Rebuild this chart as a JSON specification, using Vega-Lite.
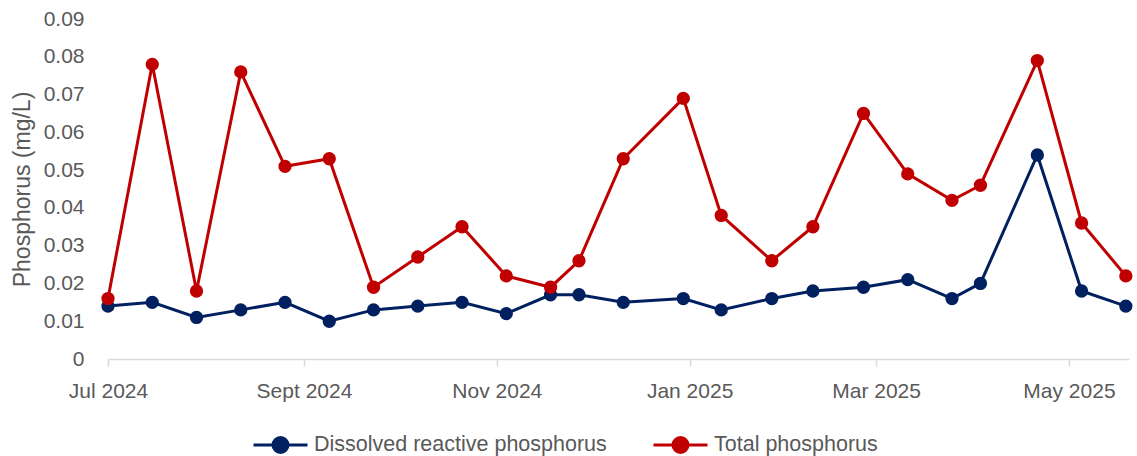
{
  "$schema": "https://vega.github.io/schema/vega-lite/v6.json",
  "width": 1021,
  "height": 340,
  "autosize": {"type": "none"},
  "padding": {"left": 108, "top": 19, "right": 8, "bottom": 97},
  "background": "white",
  "config": {"view": {"stroke": null}, "font": "Liberation Sans"},
  "data": {"values": [
    {"date": "2024-07-01", "series": "Dissolved reactive phosphorus", "value": 0.014},
    {"date": "2024-07-15", "series": "Dissolved reactive phosphorus", "value": 0.015},
    {"date": "2024-07-29", "series": "Dissolved reactive phosphorus", "value": 0.011},
    {"date": "2024-08-12", "series": "Dissolved reactive phosphorus", "value": 0.013},
    {"date": "2024-08-26", "series": "Dissolved reactive phosphorus", "value": 0.015},
    {"date": "2024-09-09", "series": "Dissolved reactive phosphorus", "value": 0.010},
    {"date": "2024-09-23", "series": "Dissolved reactive phosphorus", "value": 0.013},
    {"date": "2024-10-07", "series": "Dissolved reactive phosphorus", "value": 0.014},
    {"date": "2024-10-21", "series": "Dissolved reactive phosphorus", "value": 0.015},
    {"date": "2024-11-04", "series": "Dissolved reactive phosphorus", "value": 0.012},
    {"date": "2024-11-18", "series": "Dissolved reactive phosphorus", "value": 0.017},
    {"date": "2024-11-27", "series": "Dissolved reactive phosphorus", "value": 0.017},
    {"date": "2024-12-11", "series": "Dissolved reactive phosphorus", "value": 0.015},
    {"date": "2024-12-30", "series": "Dissolved reactive phosphorus", "value": 0.016},
    {"date": "2025-01-11", "series": "Dissolved reactive phosphorus", "value": 0.013},
    {"date": "2025-01-27", "series": "Dissolved reactive phosphorus", "value": 0.016},
    {"date": "2025-02-09", "series": "Dissolved reactive phosphorus", "value": 0.018},
    {"date": "2025-02-25", "series": "Dissolved reactive phosphorus", "value": 0.019},
    {"date": "2025-03-11", "series": "Dissolved reactive phosphorus", "value": 0.021},
    {"date": "2025-03-25", "series": "Dissolved reactive phosphorus", "value": 0.016},
    {"date": "2025-04-03", "series": "Dissolved reactive phosphorus", "value": 0.020},
    {"date": "2025-04-21", "series": "Dissolved reactive phosphorus", "value": 0.054},
    {"date": "2025-05-05", "series": "Dissolved reactive phosphorus", "value": 0.018},
    {"date": "2025-05-19", "series": "Dissolved reactive phosphorus", "value": 0.014},
    {"date": "2024-07-01", "series": "Total phosphorus", "value": 0.016},
    {"date": "2024-07-15", "series": "Total phosphorus", "value": 0.078},
    {"date": "2024-07-29", "series": "Total phosphorus", "value": 0.018},
    {"date": "2024-08-12", "series": "Total phosphorus", "value": 0.076},
    {"date": "2024-08-26", "series": "Total phosphorus", "value": 0.051},
    {"date": "2024-09-09", "series": "Total phosphorus", "value": 0.053},
    {"date": "2024-09-23", "series": "Total phosphorus", "value": 0.019},
    {"date": "2024-10-07", "series": "Total phosphorus", "value": 0.027},
    {"date": "2024-10-21", "series": "Total phosphorus", "value": 0.035},
    {"date": "2024-11-04", "series": "Total phosphorus", "value": 0.022},
    {"date": "2024-11-18", "series": "Total phosphorus", "value": 0.019},
    {"date": "2024-11-27", "series": "Total phosphorus", "value": 0.026},
    {"date": "2024-12-11", "series": "Total phosphorus", "value": 0.053},
    {"date": "2024-12-30", "series": "Total phosphorus", "value": 0.069},
    {"date": "2025-01-11", "series": "Total phosphorus", "value": 0.038},
    {"date": "2025-01-27", "series": "Total phosphorus", "value": 0.026},
    {"date": "2025-02-09", "series": "Total phosphorus", "value": 0.035},
    {"date": "2025-02-25", "series": "Total phosphorus", "value": 0.065},
    {"date": "2025-03-11", "series": "Total phosphorus", "value": 0.049},
    {"date": "2025-03-25", "series": "Total phosphorus", "value": 0.042},
    {"date": "2025-04-03", "series": "Total phosphorus", "value": 0.046},
    {"date": "2025-04-21", "series": "Total phosphorus", "value": 0.079},
    {"date": "2025-05-05", "series": "Total phosphorus", "value": 0.036},
    {"date": "2025-05-19", "series": "Total phosphorus", "value": 0.022}
  ]},
  "encoding": {
    "x": {
      "field": "date",
      "type": "temporal",
      "scale": {
        "type": "utc",
        "domain": [
          {"year": 2024, "month": 7, "date": 1, "utc": true},
          {"year": 2025, "month": 5, "date": 20, "utc": true}
        ]
      },
      "axis": {
        "title": null,
        "values": [
          {"year": 2024, "month": 7, "date": 1, "utc": true},
          {"year": 2024, "month": 9, "date": 1, "utc": true},
          {"year": 2024, "month": 11, "date": 1, "utc": true},
          {"year": 2025, "month": 1, "date": 1, "utc": true},
          {"year": 2025, "month": 3, "date": 1, "utc": true},
          {"year": 2025, "month": 5, "date": 1, "utc": true}
        ],
        "labelExpr": "replace(utcFormat(datum.value, '%b %Y'), 'Sep ', 'Sept ')",
        "grid": false,
        "domainColor": "#d9d9d9",
        "domainWidth": 1.5,
        "tickColor": "#d9d9d9",
        "tickWidth": 1.5,
        "tickSize": 7,
        "labelFontSize": 21,
        "labelColor": "#595959",
        "labelBaseline": "alphabetic",
        "labelPadding": 31,
        "labelFlush": false,
        "labelOverlap": false
      }
    },
    "y": {
      "field": "value",
      "type": "quantitative",
      "scale": {"domain": [0, 0.09], "nice": false, "zero": true},
      "axis": {
        "title": "Phosphorus (mg/L)",
        "values": [0, 0.01, 0.02, 0.03, 0.04, 0.05, 0.06, 0.07, 0.08, 0.09],
        "labelExpr": "datum.value == 0 ? '0' : format(datum.value, '.2f')",
        "grid": false,
        "domain": false,
        "ticks": false,
        "labelFontSize": 21,
        "labelColor": "#595959",
        "labelPadding": 24,
        "labelFlush": false,
        "labelOverlap": false,
        "titleFontSize": 23,
        "titleFontWeight": "normal",
        "titleColor": "#595959",
        "titleAngle": 270,
        "titleAlign": "center",
        "titleBaseline": "middle",
        "titleX": -86,
        "titleY": 170
      }
    },
    "color": {
      "field": "series",
      "type": "nominal",
      "scale": {
        "domain": ["Dissolved reactive phosphorus", "Total phosphorus"],
        "range": ["#002060", "#c00000"]
      },
      "legend": {
        "orient": "none",
        "legendX": 144,
        "legendY": 397,
        "direction": "horizontal",
        "title": null,
        "symbolType": "M-1,0L1,0M-0.278,0A0.278,0.278,0,1,0,0.278,0A0.278,0.278,0,1,0,-0.278,0Z",
        "symbolSize": 2916,
        "symbolStrokeWidth": 3,
        "labelFontSize": 21.5,
        "labelColor": "#595959",
        "labelLimit": 0,
        "labelOffset": 5,
        "columnPadding": 40,
        "encode": {
          "symbols": {
            "update": {
              "fill": {"scale": "color", "field": "value"},
              "stroke": {"scale": "color", "field": "value"},
              "opacity": {"value": 1}
            }
          }
        }
      }
    }
  },
  "layer": [
    {"mark": {"type": "line", "strokeWidth": 3}, "encoding": {}},
    {"mark": {"type": "point", "filled": true, "size": 177, "opacity": 1}, "encoding": {}}
  ]
}
